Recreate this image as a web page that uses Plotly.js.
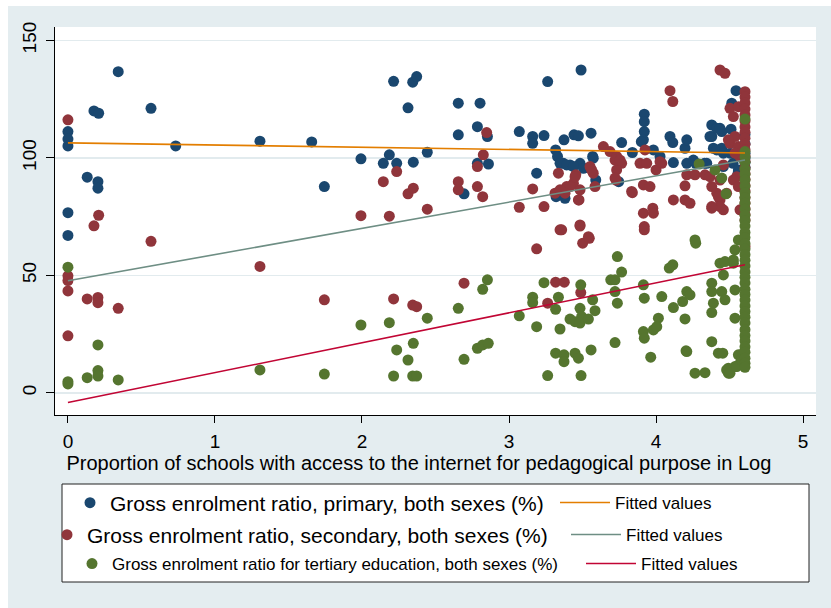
<!DOCTYPE html>
<html><head><meta charset="utf-8">
<script src="https://cdn.plot.ly/plotly-3.0.1.min.js"></script>
<style>html,body{margin:0;padding:0;background:#fff;}#chart{width:831px;height:608px;}</style>
</head><body><div id="chart"></div>
<script>
// ---- data ----
const primaryX = [
0,0,0,0,0,0.131,0.177,0.209,0.204,0.204,
0.342,0.565,0.733,1.306,1.658,1.744,1.993,2.145,2.186,2.236,
2.349,2.215,2.345,2.372,2.313,2.444,2.655,2.655,2.803,2.785,
2.853,2.86,2.785,2.694,3.07,3.161,3.161,3.238,3.188,3.263,
3.49,3.317,3.374,3.442,3.472,3.558,3.33,3.37,3.415,3.483,
3.569,3.32,3.381,3.59,3.746,3.766,3.839,3.92,3.92,3.92,
3.914,3.9,3.982,4.095,4.114,4.118,4.197,4.209,4.379,4.379,
4.413,4.447,4.51,4.39,4.447,4.544,4.515,4.524,4.558,4.27,
4.33,3.347,3.392,3.438,3.506,3.573,4.027,4.254,4.345,4.458,
4.56,4.209,4.435,4.367,4.413,4.458,4.503,4.605,4.605,4.605,
4.605,4.605,4.605];
const primaryY = [
111.2,108,105.1,76.7,67,91.8,120,119,89.9,87.1,
136.7,121.1,105.1,107.1,106.8,87.8,99.6,97.7,101.3,97.7,
98.2,132.6,132.2,134.6,121.3,102.4,123.3,109.8,123.3,113.3,
109.1,97.4,97.7,84.7,111.2,109.1,106.2,109.5,93.5,132.5,
137.4,103.4,107.7,109.8,109.4,110.5,100.6,97.7,97,97.7,
100.6,83.5,82.8,90.6,89.9,106.5,102.3,118.6,115.4,111.2,
107.7,106.9,103.4,109.1,106.5,98,104.1,97.7,114,109.1,
112.6,111.2,112.2,104.1,104.1,128.6,123.3,97.7,93.5,97.7,
97.7,97.7,97,96.3,95.6,99.9,100.6,99.1,97.7,96.3,
94.9,107.7,112.6,109.1,103.4,102,102,110,106,102,
100,98,96];

const secondaryX = [
0,0,0,0,0,0.177,0.209,0.565,0.131,0.204,
0.204,0.342,1.306,1.744,1.993,2.186,2.145,2.236,2.313,2.349,
2.215,2.345,2.372,2.848,2.825,2.785,2.655,2.655,2.785,2.821,
2.444,2.694,3.07,3.161,3.238,3.188,3.347,3.483,3.501,3.546,
3.317,3.376,3.263,3.488,3.336,3.313,3.392,3.438,3.454,3.476,
3.551,3.573,3.585,3.642,3.687,3.732,3.766,3.732,3.728,3.721,
3.755,3.721,3.839,3.891,3.925,3.937,3.914,3.959,3.914,3.978,
3.982,3.92,3.92,4.0,4.039,4.027,4.095,4.114,4.118,4.197,
4.231,4.209,4.265,4.333,4.197,4.379,4.379,4.458,4.435,4.413,
4.435,4.469,4.503,4.526,4.503,4.537,4.458,4.549,4.571,4.571,
4.56,4.492,4.56,4.537,4.367,4.435,4.526,4.56,4.424,4.48,
4.435,4.379,3.562,3.449,3.415,3.483,3.381,3.347,3.472,3.834,
3.483,3.54,3.358,4.605,4.605,4.605,4.605,4.605,4.605,4.605,
4.605,4.605,4.605,4.605,4.605,4.605,4.605,4.605,4.605,4.605,
4.605,4.605,4.605,4.605,4.605,4.605,4.605];
const secondaryY = [
116.2,49.8,47.8,43.4,24.3,71.1,75.6,64.5,40,40.6,
38.4,36,53.8,39.6,75.4,75.2,89.9,94.2,84.7,87.1,
40,37.4,36.7,110.8,101.3,96.3,89.9,86.4,87.8,83.5,
78.2,46.7,79,86.8,79.3,61.3,69.4,71,63.7,65.8,
47.1,47.1,38.2,42.7,93.5,85,87.8,89.2,92.8,82.1,
96.3,93.5,87.8,104.8,102.7,100.6,97.7,94.9,90.6,99.1,
99.1,91.4,85.2,97.7,103.4,97.7,88.5,87.8,76.5,78.6,
76.5,70.8,69.4,94.9,97.7,98.4,128.6,124,82.1,82.1,
80.7,92.8,92.8,92.8,88.1,87.8,78.6,77.9,82.1,85,
137.4,136,121.1,117.6,106.2,109.1,97,92,100.6,77.9,
121.8,107.7,104.8,102,92,90.6,90.6,87.8,83.5,85,
79.3,79.3,94.9,92,87.8,86.4,85,86.4,82.1,85.7,
71.5,66.5,69.4,128.2,125.9,123.4,120.8,118.3,115.7,113.2,
110.9,108.4,105.8,103.5,100.9,98.6,95.8,93.3,90.9,88.2,
85.9,83.1,80.8,78.4,75.9,73.6,62.3];

const tertiaryX = [
0,0,0,0.131,0.204,0.204,0.204,0.342,1.306,1.744,
1.993,2.186,2.236,2.313,2.349,2.215,2.345,2.372,2.444,2.655,
2.694,2.821,2.853,2.785,2.821,2.859,3.07,3.161,3.161,3.188,
3.238,3.263,3.317,3.336,3.347,3.317,3.374,3.374,3.449,3.472,
3.49,3.415,3.449,3.483,3.494,3.483,3.54,3.585,3.488,3.569,
3.558,3.692,3.721,3.766,3.737,3.721,3.737,3.721,3.914,3.92,
3.914,3.92,3.982,4.016,4.005,3.964,4.039,4.09,4.114,4.118,
4.181,4.209,4.231,4.197,4.204,4.27,4.265,4.333,4.379,4.379,
4.379,4.39,4.435,4.458,4.447,4.469,4.379,4.424,4.454,4.492,
4.492,4.537,4.526,4.537,4.537,4.56,4.583,4.571,4.293,4.401,
4.447,4.476,4.265,4.469,4.526,4.56,4.537,4.209,4.48,4.503,
4.549,4.583,4.594,
4.605,4.605,4.605,4.605,4.605,4.605,4.605,4.605,4.605,4.605,
4.605,4.605,4.605,4.605,4.605,4.605,4.605,4.605,4.605,4.605,
4.605,4.605,4.605,4.605,4.605,4.605,4.605,4.605,4.605,4.605,
4.605,4.605,4.605,4.605,4.605,4.605,4.605,4.605,4.605,4.605];
const tertiaryY = [
53.5,4.8,3.8,6.5,9.5,7.2,20.4,5.5,9.8,8,
28.9,29.9,18.3,14,21.1,7.2,7.2,7.2,31.8,36,
14.3,44.1,48.1,19,20.4,21.1,32.8,40.7,38.4,28.2,
46.9,7.4,35.6,40.7,27.2,16.9,16.2,13.3,16.9,14.8,
7.4,31.4,30.3,36,32.5,29.7,31.4,35,46,39.6,
18.3,48.1,48.1,51.4,58,43.1,38.2,21.4,46,40.3,
26.1,23.3,26.8,31.8,28.2,15.2,41,53.1,54.5,36.3,
38.9,43.1,41.7,31.5,17.9,63.7,8.4,8.6,46.7,43.1,
34.2,38.2,55.2,50.2,43.1,39.6,21.8,16.9,16.9,10.5,
8.4,11.2,55.2,43.8,31.8,16.2,15.4,12.6,97.4,94.9,
91.4,84.7,65.1,55.9,56.6,65.1,60.9,17.6,9.8,8.4,
11.2,14,16.9,
116.5,102.7,100.4,98.1,95.2,93.0,90.6,88.0,85.3,83.1,
80.7,78.2,75.6,73.4,71.0,68.3,66.1,63.5,61.2,58.8,
56.4,54.0,51.5,49.2,46.8,44.1,41.9,39.5,37.0,34.6,
32.2,29.8,26.9,24.4,22.1,19.6,17.3,14.8,12.6,10.9];

// fitted lines (end points)
const fitX = [0, 4.605];
const fitPrimary = [106.4, 102.1];
const fitSecondary = [47.7, 99.1];
const fitTertiary = [-4.1, 54.5];

const seriesNames = [
  'Gross enrolment ratio, primary, both sexes (%)',
  'Gross enrolment ratio, secondary, both sexes (%)',
  'Gross enrolment ratio for tertiary education, both sexes (%)'
];
const fitName = 'Fitted values';
const xTickVals = [0, 1, 2, 3, 4, 5];
const yTickVals = [0, 50, 100, 150];
const xTitle = 'Proportion of schools with access to the internet for pedagogical purpose in Log';

// ---- styling ----
const FONT = 'Liberation Sans, Arial, sans-serif';
const W = 831, H = 608;
const C = {navy:'#1a476f', maroon:'#90353b', green:'#55752f', orange:'#e37e00', teal:'#6e8e84', cran:'#c10534'};
const MS = 11;

function sc(x, y, name, color, leg) {
  return {type:'scatter', mode:'markers', x:x, y:y, name:name, legend:leg,
    marker:{color:color, size:MS, line:{width:0}}, hoverinfo:'x+y'};
}
function ln(y, color, leg) {
  return {type:'scatter', mode:'lines', x:fitX, y:y, name:fitName, legend:leg,
    line:{color:color, width:1.6}, hoverinfo:'x+y'};
}
const data = [
  sc(primaryX, primaryY, seriesNames[0], C.navy, 'legend'),
  sc(secondaryX, secondaryY, seriesNames[1], C.maroon, 'legend3'),
  sc(tertiaryX, tertiaryY, seriesNames[2], C.green, 'legend5'),
  ln(fitPrimary, C.orange, 'legend2'),
  ln(fitSecondary, C.teal, 'legend4'),
  ln(fitTertiary, C.cran, 'legend6')
];

function leg(xpx, ypx, size, iw) {
  return {x:xpx/W, y:1-ypx/H, xref:'container', yref:'container', xanchor:'left', yanchor:'middle',
    bgcolor:'rgba(0,0,0,0)', borderwidth:0, font:{family:FONT, size:size, color:'#000'},
    itemwidth:iw, itemclick:false, itemdoubleclick:false};
}

const L = 55, R = 816, T = 27, B = 415;
const pw = R - L, ph = B - T;
function px2paperX(p){ return (p - L)/pw; }
function px2paperY(p){ return (B - p)/ph; }

const PAD = '\u00A0'.repeat(6) + '\u200B';
const layout = {
  width:W, height:H,
  margin:{l:L, r:W-R, t:T, b:H-B, autoexpand:false},
  paper_bgcolor:'#e4edf0', plot_bgcolor:'#ffffff',
  font:{family:FONT, color:'#000'},
  xaxis:{range:[-0.088, 5.088], tickvals:xTickVals, ticks:'outside', ticklen:7, tickwidth:1, tickcolor:'#000',
    showline:true, linecolor:'#000', linewidth:1, showgrid:false, zeroline:false,
    tickfont:{family:FONT, size:19, color:'#000'}, ticklabelstandoff:2,
    title:{text:xTitle + PAD, font:{family:FONT, size:20, color:'#000'}, standoff:0}},
  yaxis:{range:[-9.4, 155.7], tickvals:yTickVals, ticks:'outside', ticklen:8, tickwidth:1, tickcolor:'#000',
    showline:true, linecolor:'#000', linewidth:1, showgrid:true, gridcolor:'#e2ebee', gridwidth:1.5, zeroline:false,
    tickangle:-90, tickfont:{family:FONT, size:19, color:'#000'}, ticklabelstandoff:2},
  showlegend:true,
  legend: leg(70, 503, 21, 30),
  legend2: leg(555, 503, 17, 50),
  legend3: leg(47, 535, 21, 30),
  legend4: leg(566, 535, 17, 50),
  legend5: leg(72, 564, 17, 30),
  legend6: leg(581, 564, 17, 50),
  shapes:[
    {type:'rect', xref:'paper', yref:'paper', layer:'below',
      x0:px2paperX(0), x1:px2paperX(W), y0:px2paperY(0), y1:px2paperY(6), fillcolor:'#ffffff', line:{width:0}},
    {type:'rect', xref:'paper', yref:'paper', layer:'below',
      x0:px2paperX(0), x1:px2paperX(8), y0:px2paperY(H), y1:px2paperY(0), fillcolor:'#ffffff', line:{width:0}},
    {type:'rect', xref:'paper', yref:'paper', layer:'below',
      x0:px2paperX(62), x1:px2paperX(809), y0:px2paperY(582), y1:px2paperY(484), fillcolor:'#ffffff', line:{color:'#222', width:1}}
  ]
};

Plotly.newPlot('chart', data, layout, {displayModeBar:false, staticPlot:true});
</script>
</body></html>
